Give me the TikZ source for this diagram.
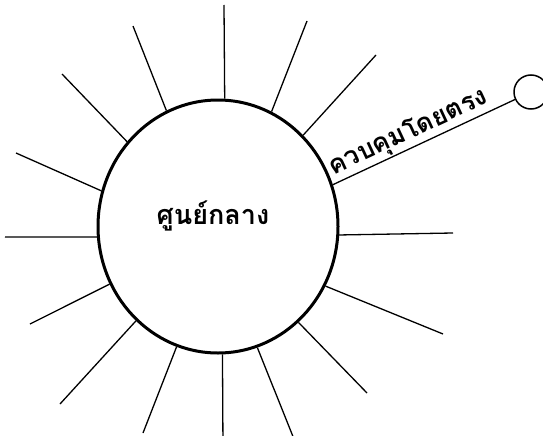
\documentclass[tikz,border=0pt]{standalone}
\usepackage{fontspec}
\newfontfamily\thaifont[Script=Thai]{Loma}
\usetikzlibrary{shapes.geometric}
\begin{document}
\begin{tikzpicture}[x=1pt,y=-1pt,
  ray/.style={line width=1.3pt},
  hub/.style={ellipse,draw,line width=3pt,minimum width=240pt,minimum height=253pt,inner sep=0pt},
  leaf/.style={circle,draw,line width=1.5pt,minimum size=34pt,inner sep=0pt},
  lbl/.style={font=\thaifont\bfseries}]
\useasboundingbox (0,0) rectangle (543,436);
\node[hub] (c) at (218,226.5) {};
\node[lbl,font=\thaifont\bfseries\fontsize{27}{30}\selectfont] (t) at (213,216) {ศูนย์กลาง};
\node[leaf] (s) at (531,92) {};
\coordinate (e1) at (224,5);
\coordinate (e2) at (133,26);
\coordinate (e3) at (307,21);
\coordinate (e4) at (376,55);
\coordinate (e5) at (62,74);
\coordinate (e6) at (16,153);
\coordinate (e7) at (5,237);
\coordinate (e8) at (30,324);
\coordinate (e9) at (60,404);
\coordinate (e10) at (143,433);
\coordinate (e11) at (223,450);
\coordinate (e12) at (296,444);
\coordinate (e13) at (367,393);
\coordinate (e14) at (443,334);
\coordinate (e15) at (453,233);
\draw[ray] (c.87.3) -- (e1);
\draw[ray] (c.114.2) -- (e2);
\draw[ray] (c.65.4) -- (e3);
\draw[ray] (c.47.1) -- (e4);
\draw[ray] (c.137.5) -- (e5);
\draw[ray] (c.163.1) -- (e6);
\draw[ray] (c.185) -- (e7);
\draw[ray] (c.208.9) -- (e8);
\draw[ray] (c.229.1) -- (e9);
\draw[ray] (c.251.8) -- (e10);
\draw[ray] (c.272.2) -- (e11);
\draw[ray] (c.288.5) -- (e12);
\draw[ray] (c.310.1) -- (e13);
\draw[ray] (c.331.4) -- (e14);
\draw[ray] (c.356.9) -- (e15);
\draw[ray] (c.20.9) -- node[sloped,above,pos=0.45,inner sep=1pt,lbl,font=\thaifont\bfseries\fontsize{26}{30}\selectfont] {ควบคุมโดยตรง} (s);
\end{tikzpicture}
\end{document}
